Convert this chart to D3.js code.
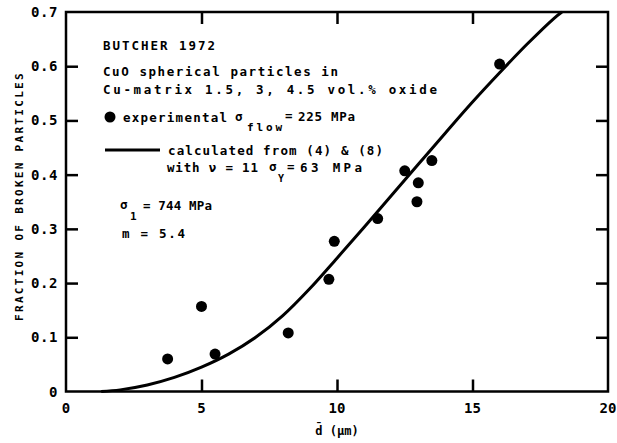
<!DOCTYPE html>
<html>
<head>
<meta charset="utf-8">
<script src="https://cdn.jsdelivr.net/npm/d3@7"></script>
<style>
  body { margin: 0; background: #fff; }
  svg text { font-family: "DejaVu Sans Mono", monospace; font-weight: bold; fill: #000; }
</style>
</head>
<body>
<svg id="chart" width="617" height="443"></svg>
<script>
// measured points (d in µm, fraction broken)
const expD = [3.75, 5.0, 5.5, 8.2, 9.7, 9.9, 11.5, 12.5, 12.95, 13.0, 13.5, 16.0];
const expF = [0.06, 0.157, 0.069, 0.108, 0.207, 0.277, 0.319, 0.407, 0.35, 0.385, 0.426, 0.604];

// calculated curve
const calcD = [1.3, 2, 3, 4, 5, 6, 7, 8, 9, 10, 11, 12, 13, 14, 15, 16, 17, 18, 18.3];
const calcF = [0, 0.003, 0.012, 0.026, 0.045, 0.069, 0.1, 0.14, 0.19, 0.246, 0.303, 0.361, 0.419, 0.477, 0.534, 0.588, 0.64, 0.688, 0.7];

const xTicks = [0, 5, 10, 15, 20];
const yTicks = [0, 0.1, 0.2, 0.3, 0.4, 0.5, 0.6, 0.7];
const yTickLabels = ["0", "0.1", "0.2", "0.3", "0.4", "0.5", "0.6", "0.7"];

const svg = d3.select('#chart');
const plotL = 66, plotR = 608, plotT = 12, plotB = 391.5;

const x = d3.scaleLinear().domain([0, 20]).range([plotL, plotR]);
const y = d3.scaleLinear().domain([0, 0.7]).range([plotB, plotT]);

// frame
svg.append('rect')
  .attr('x', plotL).attr('y', plotT)
  .attr('width', plotR - plotL).attr('height', plotB - plotT)
  .attr('fill', 'none').attr('stroke', '#000').attr('stroke-width', 2.5);

// ticks, all pointing inward
const tickLen = 12;
svg.append('g').attr('transform', `translate(${plotL},0)`)
  .call(d3.axisRight(y).tickValues(yTicks.slice(1, 7)).tickSize(tickLen).tickFormat(''))
  .call(g => g.select('.domain').remove());
svg.append('g').attr('transform', `translate(${plotR},0)`)
  .call(d3.axisLeft(y).tickValues(yTicks.slice(1, 7)).tickSize(tickLen).tickFormat(''))
  .call(g => g.select('.domain').remove());
svg.append('g').attr('transform', `translate(0,${plotB})`)
  .call(d3.axisTop(x).tickValues(xTicks.slice(1, 4)).tickSize(tickLen).tickFormat(''))
  .call(g => g.select('.domain').remove());
svg.append('g').attr('transform', `translate(0,${plotT})`)
  .call(d3.axisBottom(x).tickValues(xTicks.slice(1, 4)).tickSize(tickLen).tickFormat(''))
  .call(g => g.select('.domain').remove());
svg.selectAll('.tick line').attr('stroke', '#000').attr('stroke-width', 2.5);

// tick labels
svg.selectAll('.ylab').data(yTicks).enter().append('text')
  .attr('class', 'ylab')
  .attr('x', 58).attr('y', d => y(d) + 5)
  .attr('text-anchor', 'end')
  .style('font-size', '14px')
  .style('letter-spacing', '0.6px')
  .text((d, i) => yTickLabels[i]);

svg.selectAll('.xlab').data(xTicks).enter().append('text')
  .attr('class', 'xlab')
  .attr('x', d => x(d)).attr('y', 413)
  .attr('text-anchor', 'middle')
  .style('font-size', '14px')
  .text(d => d);

// axis titles
svg.append('text')
  .attr('transform', 'translate(23,196) rotate(-90)')
  .attr('text-anchor', 'middle')
  .style('font-size', '11px')
  .style('letter-spacing', '2.3px')
  .text('FRACTION OF BROKEN PARTICLES');

svg.append('text')
  .attr('x', 337).attr('y', 435)
  .attr('text-anchor', 'middle')
  .style('font-size', '12px')
  .text('d\u0304 (\u00b5m)');

// calculated curve
const line = d3.line()
  .x(d => x(d[0]))
  .y(d => y(d[1]))
  .curve(d3.curveCatmullRom);

svg.append('path')
  .datum(d3.zip(calcD, calcF))
  .attr('d', line)
  .attr('fill', 'none')
  .attr('stroke', '#000')
  .attr('stroke-width', 3);

// experimental points
svg.selectAll('.pt').data(d3.zip(expD, expF)).enter().append('circle')
  .attr('class', 'pt')
  .attr('cx', d => x(d[0])).attr('cy', d => y(d[1]))
  .attr('r', 5.5)
  .attr('fill', '#000');

// annotation block: each piece stretched to the width it has in the original
const note = (x0, x1, base, str, size) => svg.append('text')
  .attr('x', x0).attr('y', base)
  .attr('textLength', x1 - x0)
  .attr('lengthAdjust', 'spacing')
  .style('font-size', (size || 12.5) + 'px')
  .text(str);

note(103, 215, 50, 'BUTCHER 1972');
note(103, 338, 76, 'CuO spherical particles in');
note(103, 437, 93.5, 'Cu-matrix  1.5, 3, 4.5 vol.%  oxide');

svg.append('circle').attr('cx', 110).attr('cy', 117).attr('r', 5.5).attr('fill', '#000');
note(123, 227, 122, 'experimental');
note(235, 244, 121, '\u03c3');
note(247, 282, 131, 'flow', 11);
note(285, 293, 120, '=');
note(298, 355, 121, '225 MPa');

svg.append('line')
  .attr('x1', 105).attr('x2', 160).attr('y1', 150).attr('y2', 150)
  .attr('stroke', '#000').attr('stroke-width', 3);
note(168, 383, 155, 'calculated from (4) & (8)');
note(167, 258, 171.5, 'with \u03bd = 11');
note(269, 277, 171, '\u03c3');
note(278, 284, 182, 'Y', 10);
note(287, 295, 170.5, '=');
note(300, 362, 171.5, '63 MPa');

note(120, 128, 209, '\u03c3');
note(130, 136, 220, '1', 11);
note(143, 212, 210, '= 744 MPa');
note(122, 185, 238, 'm = 5.4');
</script>
</body>
</html>
